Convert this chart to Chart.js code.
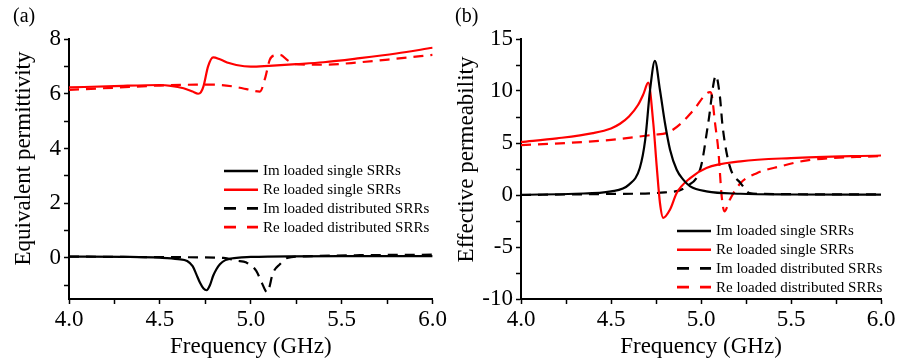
<!DOCTYPE html>
<html>
<head>
<meta charset="utf-8">
<script src="https://cdn.jsdelivr.net/npm/chart.js@4.4.0/dist/chart.umd.min.js"></script>
<style>
  body { margin: 0; background: #fff; }
  .panel { position: absolute; top: 0; width: 449px; height: 362px; }
</style>
</head>
<body>
<div class="panel" style="left:0"><canvas id="grafikA" width="449" height="362"></canvas></div>
<div class="panel" style="left:449px"><canvas id="grafikB" width="449" height="362"></canvas></div>
<script>
// (a) equivalent permittivity
const fImSingleA = [4.0, 4.3, 4.5, 4.6, 4.65, 4.68, 4.70, 4.72, 4.74, 4.757, 4.775, 4.793, 4.81, 4.83, 4.86, 4.89, 4.95, 5.0, 5.5, 6.0];
const epsImSingle = [0.05, 0.04, 0.01, -0.04, -0.11, -0.3, -0.59, -0.9, -1.12, -1.18, -1.0, -0.65, -0.42, -0.23, -0.08, -0.02, 0.02, 0.04, 0.07, 0.07];
const fReSingleA = [4.0, 4.25, 4.5, 4.56, 4.63, 4.68, 4.71, 4.725, 4.74, 4.765, 4.793, 4.83, 4.88, 4.92, 5.0, 5.1, 5.25, 5.4, 5.6, 5.8, 6.0];
const epsReSingle = [6.23, 6.28, 6.32, 6.29, 6.2, 6.08, 6.0, 6.05, 6.28, 7.0, 7.33, 7.26, 7.12, 7.05, 6.99, 7.02, 7.08, 7.15, 7.3, 7.47, 7.68];
const fImDistA = [4.0, 4.5, 4.85, 4.92, 4.976, 5.03, 5.06, 5.09, 5.123, 5.16, 5.2, 5.3, 5.6, 6.0];
const epsImDist = [0.05, 0.03, 0.0, -0.1, -0.17, -0.47, -0.9, -1.25, -0.53, -0.23, 0.0, 0.06, 0.1, 0.12];
const fReDistA = [4.0, 4.25, 4.5, 4.7, 4.8, 4.9, 4.976, 5.05, 5.08, 5.104, 5.13, 5.16, 5.205, 5.25, 5.4, 5.6, 5.8, 6.0];
const epsReDist = [6.14, 6.22, 6.3, 6.33, 6.33, 6.27, 6.17, 6.08, 6.6, 7.24, 7.4, 7.42, 7.21, 7.08, 7.06, 7.15, 7.28, 7.42];

// (b) effective permeability
const fImSingleB = [4.0, 4.3, 4.5, 4.6, 4.66, 4.69, 4.717, 4.744, 4.772, 4.8, 4.828, 4.865, 4.9, 4.94, 5.03, 5.22, 5.5, 6.0];
const muImSingle = [0.02, 0.12, 0.35, 1.0, 2.6, 5.3, 10.1, 12.9, 10.1, 6.9, 4.36, 2.43, 1.5, 0.83, 0.35, 0.12, 0.05, 0.03];
const fReSingleB = [4.0, 4.2, 4.4, 4.5, 4.55, 4.6, 4.65, 4.68, 4.707, 4.735, 4.754, 4.772, 4.79, 4.828, 4.865, 4.94, 5.03, 5.22, 5.5, 6.0];
const muReSingle = [5.1, 5.45, 5.95, 6.4, 6.85, 7.55, 8.65, 9.7, 10.8, 6.9, 2.75, -0.77, -2.2, -1.4, 0.19, 1.63, 2.6, 3.23, 3.55, 3.8];
const fImDistB = [4.0, 4.5, 4.8, 4.92, 5.0, 5.04, 5.083, 5.105, 5.12, 5.16, 5.22, 5.27, 5.35, 6.0];
const muImDist = [0.0, 0.1, 0.25, 0.83, 2.75, 6.9, 11.47, 9.48, 6.6, 2.75, 1.15, 0.19, 0.1, 0.05];
const fReDistB = [4.0, 4.25, 4.5, 4.74, 4.81, 4.89, 4.96, 5.05, 5.06, 5.078, 5.096, 5.115, 5.13, 5.16, 5.22, 5.31, 5.44, 5.59, 6.0];
const muReDist = [4.8, 5.0, 5.3, 5.8, 5.96, 6.9, 8.2, 9.9, 9.6, 6.9, 4.36, -0.13, -1.58, -0.45, 1.15, 2.1, 2.75, 3.33, 3.75];

const seriesNames = ["Im loaded single SRRs", "Re loaded single SRRs", "Im loaded distributed SRRs", "Re loaded distributed SRRs"];
const freqTicks = [4.0, 4.25, 4.5, 4.75, 5.0, 5.25, 5.5, 5.75, 6.0];
const epsTicks = [-1, 0, 1, 2, 3, 4, 5, 6, 7, 8];
const muTicks = [-10, -7.5, -5, -2.5, 0, 2.5, 5, 7.5, 10, 12.5, 15];

const serif = "'Liberation Serif', 'Times New Roman', serif";

function pts(xs, ys) {
  return xs.map((x, i) => ({ x: x, y: ys[i] }));
}

function makeSet(label, xs, ys, color, dashed) {
  return {
    label: label,
    data: pts(xs, ys),
    borderColor: color,
    backgroundColor: color,
    borderWidth: 2.2,
    borderDash: dashed ? [10, 7] : [],
    pointRadius: 0,
    cubicInterpolationMode: "monotone",
    fill: false,
  };
}

// legend, panel letter and y title drawn on top of the chart
const overlay = {
  id: "overlay",
  afterDraw(chart, args, opts) {
    const ctx = chart.ctx;
    ctx.save();
    ctx.fillStyle = "#000";
    ctx.textBaseline = "middle";
    ctx.textAlign = "left";
    ctx.font = "20px " + serif;
    ctx.fillText(opts.letter, opts.letterX, 17);

    ctx.save();
    ctx.translate(opts.titleX, opts.titleY);
    ctx.rotate(-Math.PI / 2);
    ctx.textAlign = "center";
    ctx.font = "23px " + serif;
    ctx.fillText(opts.yTitle, 0, 0);
    ctx.restore();

    ctx.font = "15px " + serif;
    chart.data.datasets.forEach((ds, i) => {
      const y = opts.legendY + i * 18.7;
      ctx.strokeStyle = ds.borderColor;
      ctx.lineWidth = 2.6;
      ctx.setLineDash(ds.borderDash.length ? [12, 11] : []);
      ctx.beginPath();
      ctx.moveTo(opts.legendX, y);
      ctx.lineTo(opts.legendX + 34, y);
      ctx.stroke();
      ctx.setLineDash([]);
      ctx.fillStyle = "#000";
      ctx.fillText(ds.label, opts.legendX + 39, y + 0.5);
    });
    ctx.restore();
  },
};

function makeOptions(cfg) {
  return {
    responsive: false,
    animation: false,
    devicePixelRatio: 1,
    layout: { padding: { top: 39, right: cfg.padRight, left: 0, bottom: 0 } },
    plugins: {
      legend: { display: false },
      tooltip: { enabled: false },
      overlay: {
        letter: cfg.letter, letterX: cfg.letterX, legendX: cfg.legendX, legendY: cfg.legendY,
        yTitle: cfg.yTitle, titleX: cfg.titleX, titleY: cfg.titleY,
      },
    },
    scales: {
      x: {
        type: "linear",
        min: 4,
        max: 6,
        afterFit: (s) => { s.height = 63; },
        afterBuildTicks: (s) => { s.ticks = freqTicks.map((v) => ({ value: v })); },
        border: { display: true, color: "#000", width: 2 },
        grid: { drawOnChartArea: false, drawTicks: true, tickLength: 5, tickColor: "#000", tickWidth: 1.5 },
        ticks: {
          autoSkip: false,
          maxRotation: 0,
          padding: 2,
          color: "#000",
          font: { family: serif, size: 23 },
          callback: (v) => (Math.abs(v * 2 - Math.round(v * 2)) < 1e-6 ? v.toFixed(1) : ""),
        },
        title: {
          display: true,
          text: "Frequency (GHz)",
          color: "#000",
          font: { family: serif, size: 23 },
          padding: { top: 0, bottom: 1 },
        },
      },
      y: {
        type: "linear",
        min: cfg.ymin,
        max: cfg.ymax,
        afterFit: (s) => { s.width = cfg.yWidth; },
        afterBuildTicks: (s) => { s.ticks = cfg.yTicks.map((v) => ({ value: v })); },
        border: { display: true, color: "#000", width: 2 },
        grid: { drawOnChartArea: false, drawTicks: true, tickLength: 5, tickColor: "#000", tickWidth: 1.5 },
        ticks: {
          autoSkip: false,
          padding: 3,
          color: "#000",
          font: { family: serif, size: 23 },
          callback: (v) => (v % cfg.yMajor === 0 ? String(v) : ""),
        },
        title: { display: false },
      },
    },
  };
}

const grafikA = new Chart(document.getElementById("grafikA"), {
  type: "line",
  data: {
    datasets: [
      makeSet(seriesNames[0], fImSingleA, epsImSingle, "#000000", false),
      makeSet(seriesNames[1], fReSingleA, epsReSingle, "#ff0000", false),
      makeSet(seriesNames[2], fImDistA, epsImDist, "#000000", true),
      makeSet(seriesNames[3], fReDistA, epsReDist, "#ff0000", true),
    ],
  },
  options: makeOptions({
    padRight: 16, yWidth: 69, ymin: -1.5, ymax: 8, yTicks: epsTicks, yMajor: 2,
    yTitle: "Equivalent permittivity", titleX: 24, titleY: 158.5,
    letter: "(a)", letterX: 13, legendX: 224, legendY: 171,
  }),
  plugins: [overlay],
});

const grafikB = new Chart(document.getElementById("grafikB"), {
  type: "line",
  data: {
    datasets: [
      makeSet(seriesNames[0], fImSingleB, muImSingle, "#000000", false),
      makeSet(seriesNames[1], fReSingleB, muReSingle, "#ff0000", false),
      makeSet(seriesNames[2], fImDistB, muImDist, "#000000", true),
      makeSet(seriesNames[3], fReDistB, muReDist, "#ff0000", true),
    ],
  },
  options: makeOptions({
    padRight: 17, yWidth: 72, ymin: -10, ymax: 15, yTicks: muTicks, yMajor: 5,
    yTitle: "Effective permeability", titleX: 18, titleY: 159.5,
    letter: "(b)", letterX: 6, legendX: 228, legendY: 231,
  }),
  plugins: [overlay],
});
</script>
</body>
</html>
